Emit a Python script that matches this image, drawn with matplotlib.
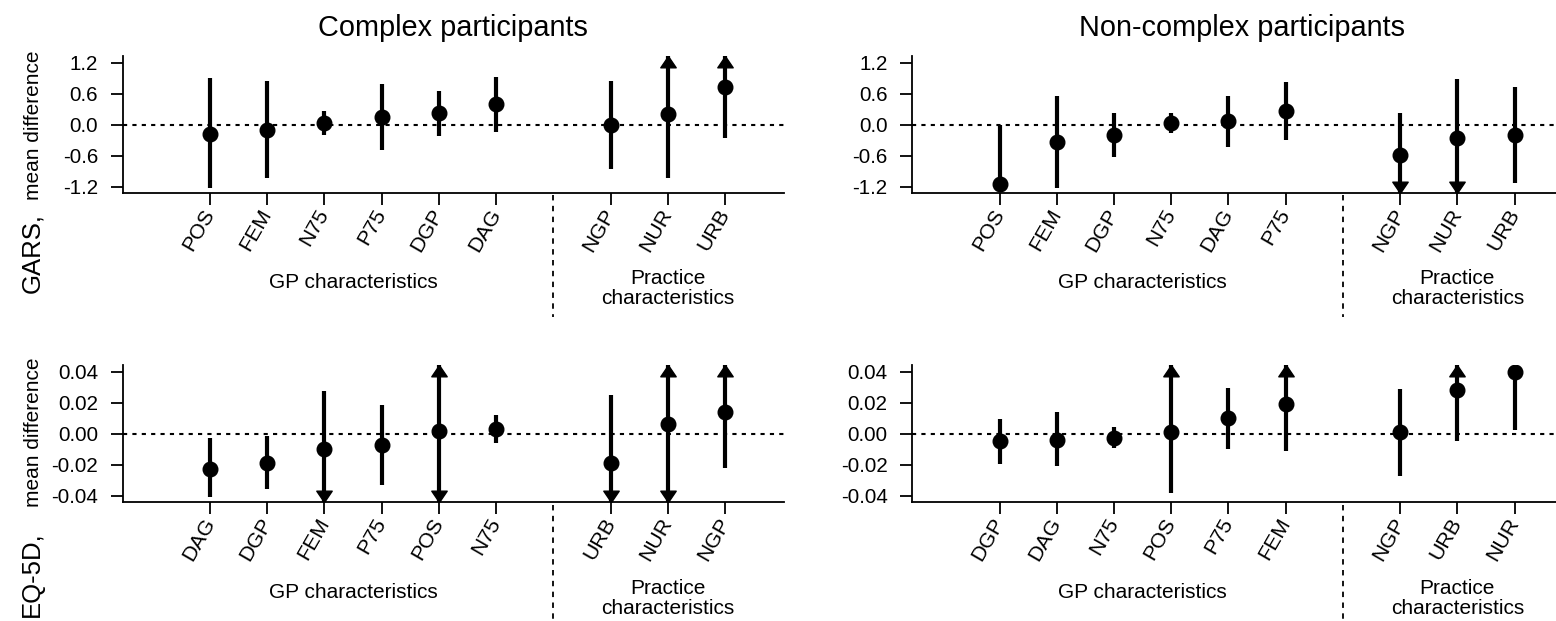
import matplotlib
matplotlib.use("Agg")
import matplotlib.pyplot as plt
import matplotlib.transforms as mtransforms
import numpy as np

plt.rcParams['font.family'] = ['Liberation Sans', 'DejaVu Sans']

# ---------------- data ----------------
gp_group = 6
practice_group = 3

gars_complex_labels = ["POS", "FEM", "N75", "P75", "DGP", "DAG", "NGP", "NUR", "URB"]
gars_complex_mean = [-0.19, -0.10, 0.03, 0.15, 0.23, 0.39, -0.01, 0.21, 0.72]
gars_complex_lo = [-1.22, -1.03, -0.20, -0.50, -0.23, -0.14, -0.86, -1.03, -0.25]
gars_complex_hi = [0.90, 0.85, 0.26, 0.79, 0.66, 0.92, 0.85, 1.60, 1.70]

gars_noncomplex_labels = ["POS", "FEM", "DGP", "N75", "DAG", "P75", "NGP", "NUR", "URB"]
gars_noncomplex_mean = [-1.16, -0.34, -0.21, 0.03, 0.07, 0.26, -0.58, -0.25, -0.21]
gars_noncomplex_lo = [-1.30, -1.22, -0.62, -0.17, -0.43, -0.29, -1.60, -1.60, -1.14]
gars_noncomplex_hi = [0.00, 0.56, 0.22, 0.23, 0.56, 0.82, 0.22, 0.88, 0.72]

eq5d_complex_labels = ["DAG", "DGP", "FEM", "P75", "POS", "N75", "URB", "NUR", "NGP"]
eq5d_complex_mean = [-0.0226, -0.0188, -0.0101, -0.0073, 0.0015, 0.0032, -0.0190, 0.0065, 0.0144]
eq5d_complex_lo = [-0.0408, -0.0360, -0.0600, -0.0332, -0.0700, -0.0058, -0.0600, -0.0700, -0.0224]
eq5d_complex_hi = [-0.0026, -0.0015, 0.0274, 0.0185, 0.0700, 0.0121, 0.0252, 0.0700, 0.0700]

eq5d_noncomplex_labels = ["DGP", "DAG", "N75", "POS", "P75", "FEM", "NGP", "URB", "NUR"]
eq5d_noncomplex_mean = [-0.0047, -0.0037, -0.0024, 0.0013, 0.0099, 0.0192, 0.0013, 0.0283, 0.0400]
eq5d_noncomplex_lo = [-0.0196, -0.0209, -0.0091, -0.0386, -0.0097, -0.0114, -0.0270, -0.0045, 0.0022]
eq5d_noncomplex_hi = [0.0097, 0.0138, 0.0045, 0.0700, 0.0293, 0.0700, 0.0289, 0.0700, 0.0435]

gars_ticks = [-1.2, -0.6, 0.0, 0.6, 1.2]
gars_ticklabels = ["-1.2", "-0.6", "0.0", "0.6", "1.2"]
eq5d_ticks = [-0.04, -0.02, 0.0, 0.02, 0.04]
eq5d_ticklabels = ["-0.04", "-0.02", "0.00", "0.02", "0.04"]

titles = ["Complex participants", "Non-complex participants"]
group_labels = ["GP characteristics", "Practice\ncharacteristics"]

# ---------------- layout ----------------
W, H = 1556, 621
fig = plt.figure(figsize=(W / 100, H / 100), dpi=100)

positions = list(range(1, gp_group + 1)) + list(range(gp_group + 2, gp_group + 2 + practice_group))
xlim = (-0.53, 11.03)
sep_x = gp_group + 1


def px_axes(left, top, width, bottom):
    return [left / W, 1 - bottom / H, width / W, (bottom - top) / H]


up_marker = [(0, 0), (-7.5, -11), (7.5, -11), (0, 0)]
down_marker = [(0, 0), (-7.5, 11), (7.5, 11), (0, 0)]


def panel(rect, labels, mean, lo, hi, ylim, ticks, ticklabels, sep_bottom):
    ax = fig.add_axes(rect)
    ax.set_xlim(*xlim)
    ax.set_ylim(*ylim)
    for s in ["top", "right"]:
        ax.spines[s].set_visible(False)
    for s in ["left", "bottom"]:
        ax.spines[s].set_linewidth(1.3)
    ax.axhline(0, color="black", lw=1.5, ls=(0, (2, 2.5)), zorder=1)
    ax.vlines(positions, lo, hi, color="black", lw=3.0, zorder=2, capstyle="butt")
    ax.plot(positions, mean, "o", color="black", ms=10.5, zorder=3)
    for p, l, h in zip(positions, lo, hi):
        if h > ylim[1]:
            ax.plot([p], [ylim[1]], marker=up_marker, ms=16.3, color="black",
                    lw=0, clip_on=False, zorder=4)
        if l < ylim[0]:
            ax.plot([p], [ylim[0]], marker=down_marker, ms=16.3, color="black",
                    lw=0, clip_on=False, zorder=4)
    ax.set_yticks(ticks)
    ax.set_yticklabels(ticklabels, fontsize=14.8)
    ax.set_xticks(positions)
    ax.set_xticklabels(labels, fontsize=15.3, rotation=60, ha="right", va="center",
                       rotation_mode="anchor")
    shift = mtransforms.ScaledTranslation(3 / 100, 0, fig.dpi_scale_trans)
    for lab in ax.get_xticklabels():
        lab.set_transform(lab.get_transform() + shift)
    ax.tick_params(axis="both", direction="out", length=8.6, width=1.3, color="black")
    ax.tick_params(axis="y", pad=9)
    ax.tick_params(axis="x", pad=4)
    trans = mtransforms.blended_transform_factory(ax.transData, ax.transAxes)
    ax.plot([sep_x, sep_x], [-0.02, sep_bottom], transform=trans, color="black",
            lw=1.3, ls=(0, (3, 3)), clip_on=False)
    ax.text(np.mean(positions[:gp_group]), -0.655, group_labels[0], transform=trans,
            ha="center", va="center", fontsize=15)
    ax.text(np.mean(positions[gp_group:]), -0.70, group_labels[1], transform=trans,
            ha="center", va="center", fontsize=15, linespacing=1.05)
    return ax


ax1 = panel(px_axes(122.5, 56, 661.5, 192.7), gars_complex_labels, gars_complex_mean,
            gars_complex_lo, gars_complex_hi, (-1.32, 1.33), gars_ticks, gars_ticklabels, -0.91)
ax2 = panel(px_axes(912, 56, 661.5, 192.7), gars_noncomplex_labels, gars_noncomplex_mean,
            gars_noncomplex_lo, gars_noncomplex_hi, (-1.32, 1.33), gars_ticks, gars_ticklabels, -0.91)
ax3 = panel(px_axes(122.5, 365.3, 661.5, 502.3), eq5d_complex_labels, eq5d_complex_mean,
            eq5d_complex_lo, eq5d_complex_hi, (-0.0443, 0.0443), eq5d_ticks, eq5d_ticklabels, -0.9)
ax4 = panel(px_axes(912, 365.3, 661.5, 502.3), eq5d_noncomplex_labels, eq5d_noncomplex_mean,
            eq5d_noncomplex_lo, eq5d_noncomplex_hi, (-0.0443, 0.0443), eq5d_ticks, eq5d_ticklabels, -0.9)

# titles
fig.text(453 / W, 1 - 36 / H, titles[0], ha="center", va="baseline", fontsize=20.8)
fig.text(1242 / W, 1 - 36 / H, titles[1], ha="center", va="baseline", fontsize=20.8)

# y labels


def ylab(big, y_big, y_small):
    fig.text(39 / W, 1 - y_big / H, big, rotation=90, rotation_mode="anchor",
             ha="left", va="baseline", fontsize=18.5)
    fig.text(39 / W, 1 - y_small / H, "mean difference", rotation=90, rotation_mode="anchor",
             ha="left", va="baseline", fontsize=15)


ylab("GARS,", 293, 200)
ylab("EQ-5D,", 617, 506.7)

fig.savefig("out.png", dpi=100)
